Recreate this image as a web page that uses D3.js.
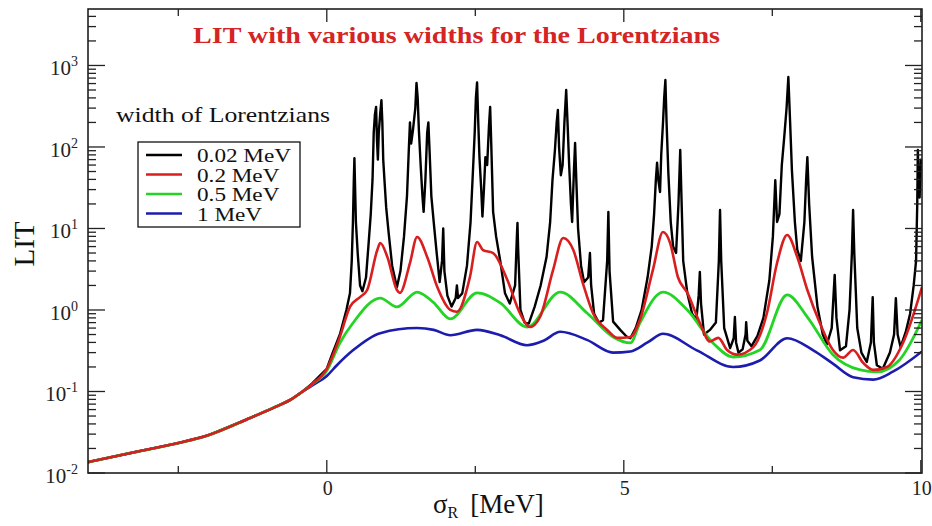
<!DOCTYPE html>
<html><head><meta charset="utf-8">
<script src="https://cdn.jsdelivr.net/npm/d3@7"></script>
<style>body{margin:0;background:#fff}svg{display:block}text{font-family:"Liberation Serif","DejaVu Serif",serif}</style>
</head><body><svg id="c" width="932" height="526"></svg>
<script>
const titleText = "LIT with various widths for the Lorentzians";
const legendTitle = "width of Lorentzians";
const seriesNames = ["0.02 MeV", "0.2 MeV", "0.5 MeV", "1 MeV"];
const seriesColors = ["#000000", "#d81e1e", "#24d424", "#1c1cae"];
const xTicksMajor = [0, 5, 10];
const xTicksMinor = [-2.5, 2.5, 7.5];
const yDecades = [-2, -1, 0, 1, 2, 3];
const xLabel = "σ", xLabelSub = "R", xLabelUnit = "[MeV]";
const yLabel = "LIT";

// shared low-energy tail (all widths coincide)
const tail = [[-4.02,0.0136],[-3.3,0.0176],[-2.5,0.0233],[-2.0,0.029],[-1.3,0.047],[-0.9,0.063],[-0.6,0.080],[-0.45,0.095]];

const w002 = [[-0.25,0.125],[0.0,0.19],[0.1,0.30],[0.22,0.5],[0.33,1.0],[0.39,1.6],[0.42,4],[0.44,12],[0.455,40],[0.465,73],[0.475,35],[0.49,12],[0.52,5],[0.56,2.0],[0.60,1.7],[0.66,2.5],[0.70,6],[0.74,15],
[0.77,40],[0.79,150],[0.81,250],[0.83,310],[0.845,120],[0.86,70],[0.875,150],[0.90,262],[0.92,375],[0.935,200],[0.95,70],[0.97,40],[1.0,18],[1.04,9],[1.1,3.5],[1.18,1.9],[1.24,3],[1.30,8],[1.35,25],[1.38,90],[1.40,200],[1.42,110],[1.45,160],[1.49,300],[1.51,610],[1.53,400],[1.55,162],[1.58,60],[1.61,25],[1.63,16],[1.66,40],[1.69,150],[1.71,200],[1.73,90],[1.76,25],[1.80,12],[1.85,5],[1.9,2.2],[1.94,4],[1.96,10],[1.98,3],[2.03,1.5],[2.1,1.1],[2.17,1.4],[2.19,2.0],[2.21,1.4],[2.28,1.6],[2.36,3.5],[2.42,12],[2.46,50],[2.49,150],[2.51,400],[2.53,620],[2.55,200],[2.57,75],[2.60,30],[2.62,14],[2.645,30],[2.67,75],[2.70,60],[2.73,180],[2.75,310],[2.77,100],[2.80,16],[2.85,8],[2.92,4],[3.0,1.6],[3.08,1.2],[3.17,2],[3.20,8],[3.21,11.7],[3.22,6],[3.26,1.0],[3.33,0.7],[3.40,0.68],[3.5,1.1],[3.6,2.0],[3.7,4.5],[3.76,12],[3.80,40],[3.84,90],[3.87,200],[3.89,284],[3.91,100],[3.94,45],[3.97,60],[4.00,200],[4.03,500],[4.055,180],[4.08,60],[4.11,20],[4.13,12],[4.16,50],[4.18,112],[4.20,40],[4.23,10],[4.28,3.5],[4.33,2.2],[4.40,2.5],[4.43,5],[4.45,2],[4.5,0.9],[4.58,0.7],[4.65,0.75],[4.72,4],[4.74,15.9],[4.76,3],[4.82,0.72],[4.94,0.57],[5.05,0.47],[5.11,0.45],[5.2,0.6],[5.3,1.0],[5.4,2.5],[5.47,6],[5.51,15],[5.54,40],[5.56,64],[5.58,40],[5.61,28],[5.63,80],[5.66,200],[5.68,400],[5.70,664],[5.72,200],[5.75,48],[5.79,12],[5.83,6],[5.88,5],[5.92,20],[5.95,92],[5.97,25],[6.00,4],[6.07,1.6],[6.15,0.9],[6.22,0.75],[6.26,1.5],[6.28,2.93],[6.30,1.2],[6.35,0.5],[6.45,0.57],[6.55,0.7],[6.60,4],[6.62,16.9],[6.64,4],[6.69,0.6],[6.79,0.34],[6.85,0.45],[6.87,0.82],[6.89,0.4],[6.93,0.3],[7.0,0.33],[7.05,0.5],[7.06,0.71],[7.08,0.42],[7.15,0.36],[7.25,0.48],[7.35,0.8],[7.45,2.3],[7.51,8],[7.55,39],[7.58,12],[7.62,15],[7.66,60],[7.70,130],[7.74,300],[7.77,723],[7.80,200],[7.83,52],[7.88,12],[7.92,5.5],[7.98,4],[8.04,12],[8.07,40],[8.09,75],[8.12,20],[8.17,4.5],[8.26,1.1],[8.35,0.5],[8.42,0.38],[8.50,0.6],[8.55,2.7],[8.58,0.8],[8.64,0.32],[8.74,0.36],[8.80,1.0],[8.84,5],[8.86,16.9],[8.88,5],[8.93,0.6],[9.0,0.3],[9.09,0.23],[9.16,0.4],[9.19,1.44],[9.21,0.4],[9.26,0.21],[9.36,0.19],[9.48,0.30],[9.55,0.5],[9.58,1.4],[9.61,0.5],[9.66,0.35],[9.75,0.55],[9.82,0.9],[9.88,2],[9.92,4],[9.94,20],[9.95,92],[9.965,30],[9.98,24],[10.0,70],[10.02,64]];

const w02 = [[-0.25,0.123],[0.0,0.19],[0.22,0.467],[0.39,1.09],[0.56,1.44],[0.68,1.76],[0.85,5.44],[0.90,6.64],[1.02,4.47],[1.18,1.76],[1.23,1.62],[1.40,3.77],[1.52,7.86],[1.69,4.47],[1.86,1.91],[2.08,1.0],[2.19,0.95],[2.41,2.54],[2.53,6.83],[2.63,5.44],[2.80,5.0],[3.04,2.33],[3.25,0.918],[3.42,0.618],[3.59,0.82],[3.81,3.10],[3.98,7.64],[4.15,5.44],[4.31,2.14],[4.48,0.918],[4.72,0.569],[4.89,0.455],[5.11,0.467],[5.27,0.753],[5.49,3.10],[5.66,9.06],[5.78,6.64],[5.91,2.54],[6.07,1.62],[6.28,0.692],[6.45,0.41],[6.59,0.455],[6.74,0.323],[6.91,0.283],[7.18,0.35],[7.41,0.918],[7.58,3.77],[7.75,8.32],[7.92,4.47],[8.09,1.76],[8.30,0.692],[8.52,0.323],[8.69,0.26],[8.86,0.323],[9.03,0.224],[9.20,0.184],[9.43,0.20],[9.70,0.394],[10.02,1.91]];

const w05 = [[-0.25,0.122],[0.0,0.18],[0.22,0.394],[0.44,0.692],[0.90,1.40],[1.18,1.09],[1.52,1.66],[1.79,1.25],[2.08,0.776],[2.53,1.62],[2.92,1.22],[3.37,0.618],[3.93,1.66],[4.38,0.918],[4.82,0.467],[5.11,0.394],[5.27,0.692],[5.66,1.66],[6.07,1.0],[6.50,0.394],[6.84,0.265],[7.29,0.323],[7.75,1.53],[8.09,0.82],[8.52,0.283],[8.98,0.184],[9.26,0.174],[9.64,0.244],[10.02,0.753]];

const w1 = [[-0.25,0.118],[0.0,0.155],[0.17,0.21],[0.44,0.32],[0.90,0.52],[1.52,0.60],[1.80,0.57],[2.08,0.49],[2.53,0.57],[2.92,0.49],[3.37,0.37],[3.65,0.42],[3.93,0.54],[4.38,0.43],[4.82,0.30],[5.11,0.31],[5.40,0.40],[5.66,0.51],[6.23,0.32],[6.84,0.20],[7.29,0.24],[7.75,0.45],[8.19,0.32],[8.52,0.22],[8.86,0.15],[9.20,0.14],[9.53,0.175],[10.02,0.31]];

const svg = d3.select("#c");
const L = 88, R = 922, T = 9, B = 473;
const x = d3.scaleLinear().domain([-4.02, 10.02]).range([L, R]);
const y = d3.scaleLog().domain([0.01, 4930]).range([B, T]);

svg.append("defs").append("clipPath").attr("id", "clip")
  .append("rect").attr("x", L).attr("y", T).attr("width", R - L).attr("height", B - T);

const series = [
  {data: tail.concat(w002), color: seriesColors[0], curve: d3.curveLinear, w: 2.4},
  {data: tail.concat(w1), color: seriesColors[3], curve: d3.curveMonotoneX, w: 2.6},
  {data: tail.concat(w05), color: seriesColors[2], curve: d3.curveMonotoneX, w: 2.8},
  {data: tail.concat(w02), color: seriesColors[1], curve: d3.curveMonotoneX, w: 2.6}
];
const g = svg.append("g").attr("clip-path", "url(#clip)");
series.forEach(s => {
  g.append("path").datum(s.data)
    .attr("fill", "none").attr("stroke", s.color).attr("stroke-width", s.w)
    .attr("stroke-linejoin", "round")
    .attr("d", d3.line().x(d => x(d[0])).y(d => y(d[1])).curve(s.curve));
});

// frame
svg.append("rect").attr("x", L).attr("y", T).attr("width", R - L).attr("height", B - T)
  .attr("fill", "none").attr("stroke", "#111").attr("stroke-width", 1.5);

const tk = svg.append("g").attr("stroke", "#222").attr("stroke-width", 1.3);
yDecades.forEach(k => {
  const v = Math.pow(10, k);
  [L, R].forEach((xx, i) => {
    const dir = i === 0 ? 1 : -1;
    tk.append("line").attr("x1", xx).attr("x2", xx + dir * 17).attr("y1", y(v)).attr("y2", y(v));
  });
  for (let m = 2; m <= 9; m++) {
    const mv = m * v;
    if (mv > y.domain()[1]) break;
    [L, R].forEach((xx, i) => {
      const dir = i === 0 ? 1 : -1;
      tk.append("line").attr("x1", xx).attr("x2", xx + dir * 8).attr("y1", y(mv)).attr("y2", y(mv));
    });
  }
});
xTicksMajor.forEach(v => {
  tk.append("line").attr("x1", x(v)).attr("x2", x(v)).attr("y1", B).attr("y2", B - 13);
  tk.append("line").attr("x1", x(v)).attr("x2", x(v)).attr("y1", T).attr("y2", T + 13);
});
xTicksMinor.forEach(v => {
  tk.append("line").attr("x1", x(v)).attr("x2", x(v)).attr("y1", B).attr("y2", B - 7);
  tk.append("line").attr("x1", x(v)).attr("x2", x(v)).attr("y1", T).attr("y2", T + 7);
});

// y tick labels
yDecades.forEach(k => {
  const t = svg.append("text").attr("x", 78).attr("y", y(Math.pow(10, k)) + 10)
    .attr("text-anchor", "end").attr("font-size", 21).attr("fill", "#222");
  t.append("tspan").text("10");
  t.append("tspan").attr("dy", -9).attr("font-size", 14).text(String(k));
});
xTicksMajor.forEach(v => {
  svg.append("text").attr("x", x(v) + 1).attr("y", 495).attr("text-anchor", "middle")
    .attr("font-size", 20).attr("fill", "#222").text(v);
});

// axis titles
const xl = svg.append("text").attr("x", 433).attr("y", 513).attr("font-size", 27).attr("fill", "#111");
xl.append("tspan").text(xLabel);
xl.append("tspan").attr("dy", 5).attr("font-size", 16).text(xLabelSub);
xl.append("tspan").attr("dy", -5).attr("dx", 12).text(xLabelUnit);

svg.append("text").attr("transform", "translate(34,244) rotate(-90)").attr("text-anchor", "middle")
  .attr("font-size", 29).attr("fill", "#111").text(yLabel);

// title
svg.append("text").attr("x", 193).attr("y", 43).attr("font-size", 23).attr("font-weight", "bold")
  .attr("fill", "#d42424").attr("textLength", 527).attr("lengthAdjust", "spacingAndGlyphs").text(titleText);

// legend
svg.append("text").attr("x", 116).attr("y", 122).attr("font-size", 21).attr("fill", "#111")
  .attr("textLength", 214).attr("lengthAdjust", "spacingAndGlyphs").text(legendTitle);
svg.append("rect").attr("x", 138).attr("y", 142).attr("width", 162).attr("height", 85)
  .attr("fill", "#fff").attr("stroke", "#111").attr("stroke-width", 1.3);
const legTexts = [];
seriesNames.forEach((n, i) => {
  const by = 162 + i * 19.5;
  svg.append("line").attr("x1", 146).attr("x2", 182).attr("y1", by - 7).attr("y2", by - 7)
    .attr("stroke", seriesColors[i]).attr("stroke-width", 2.4);
  legTexts.push(svg.append("text").attr("x", 197).attr("y", by).attr("font-size", 18.5).attr("fill", "#111").text(n));
});
const stretch = 94 / legTexts[0].node().getComputedTextLength();
legTexts.forEach(t => {
  t.attr("textLength", t.node().getComputedTextLength() * stretch).attr("lengthAdjust", "spacingAndGlyphs");
});
</script></body></html>
